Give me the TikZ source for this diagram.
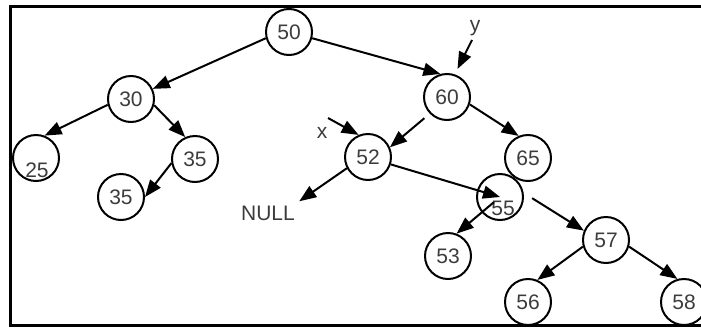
\documentclass[tikz,border=0pt]{standalone}
\usepackage{fontspec}
\setmainfont{Liberation Sans}
\usepackage{xcolor}
\usepackage{tikz}
\usetikzlibrary{arrows.meta}
\definecolor{grisnum}{RGB}{60,60,60}

\begin{document}
\begin{tikzpicture}[x=0.5pt, y=-0.5pt,
        vertex/.style={circle, draw, line width=1pt, minimum size=23pt, inner sep=0pt, font=\fontsize{10.5}{12}\selectfont, text=grisnum},
        numtxt/.style={font=\fontsize{10.5}{12}\selectfont, text=grisnum, inner sep=0pt},
        link/.style={line width=1pt, -{Triangle[length=8.5pt,width=6.5pt]}}]
        \useasboundingbox (0,0) rectangle (701,327);
        \draw[line width=1.5pt] (701,6) -- (10,6) -- (10,325) -- (701,325);
        \foreach \i/\x/\y/\t in {n50/289/32/50, n30/131/99/30, n35a/195/159/35, n35b/121/197/35, n60/447/97/60, n52/368/157/52, n65/528/158/65, n53/448/256/53, n57/606/240/57, n56/528/302/56, n58/684/302/58} {
          \node[vertex] (\i) at (\x,\y) {\t};
        }
        \node[vertex] (n25) at (36,158) {};
        \node[numtxt] at (37,170) {25};
        \node[vertex] (n55) at (500,197) {};
        \node[numtxt] at (503,208) {55};
        \node[numtxt, inner sep=2pt] (null) at (268,213) {NULL};
        \node[numtxt] (xlab) at (322,133) {x};
        \node[numtxt] (ylab) at (475,28) {y};
        \coordinate (xtail) at (328,118);
        \coordinate (ytail) at (472,40);
        \draw[link] (n50.195) -- (n30.25);
        \draw[link] (n50.-15) -- (n60.106);
        \draw[link] (n30.194) -- (n25.69);
        \draw[link] (n30.-15) -- (n35a.114);
        \draw[link] (n35a.190) -- (n35b.east);
        \draw[link, shorten <=3.5pt] (n60.224) -- (n52.24);
        \draw[link] (n60.-18) -- (n65.113);
        \draw[link] (n52.208) -- (null.north east);
        \draw[link] (n52.-18) -- (n55.center);
        \draw[link, shorten <=4pt] (n55.center) -- (n53.69);
        \draw[link, shorten <=5pt] (n55.10) -- (n57.157);
        \draw[link] (n57.196) -- (n56.67);
        \draw[link] (n57.-16) -- (n58.106);
        \draw[link] (xtail) -- (n52.113);
        \draw[link, shorten >=3pt] (ytail) -- (n60.71);
      \end{tikzpicture}
\end{document}
